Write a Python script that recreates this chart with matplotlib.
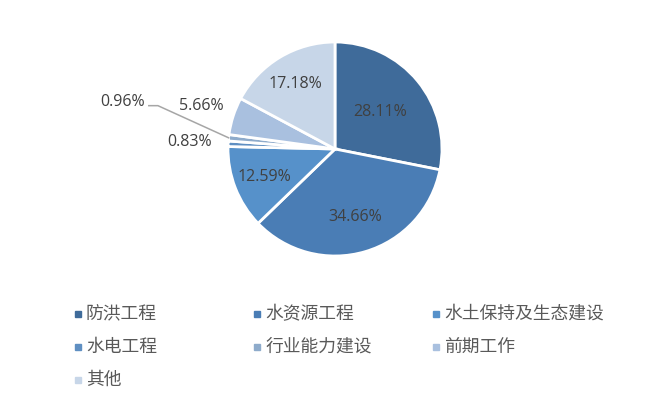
import numpy as np
import matplotlib.pyplot as plt
from matplotlib.patches import Rectangle

plt.rcParams['font.family'] = ['Noto Sans CJK SC', 'DejaVu Sans']

categories = ["防洪工程", "水资源工程", "水土保持及生态建设", "水电工程",
              "行业能力建设", "前期工作", "其他"]
shares = [28.11, 34.66, 12.59, 0.83, 0.96, 5.66, 17.18]
colors = ["#3f6b9a", "#4a7db5", "#5691ca", "#5f8fc2",
          "#8eabcb", "#a9c0df", "#c7d6e8"]
# label distance from centre (in radii) for each slice, 0.96 gets a leader line
label_dist = [0.55, 0.66, 0.71, 1.36, None, 1.31, 0.71]

W, H = 669, 407
fig = plt.figure(figsize=(W / 100, H / 100), dpi=100)
cx, cy, r = 335, 149, 107
ax = fig.add_axes([(cx - r) / W, (H - cy - r) / H, 2 * r / W, 2 * r / H])

wedges, _ = ax.pie(shares, colors=colors, startangle=90, counterclock=False,
                   radius=1, wedgeprops=dict(edgecolor='white', linewidth=2))
ax.set_xlim(-1, 1)
ax.set_ylim(-1, 1)
ax.set_aspect('equal')
ax.axis('off')

txt_color = '#404040'
num_font = ['Open Sans', 'DejaVu Sans']
cum = np.cumsum([0] + shares[:-1])
for i, w in enumerate(wedges):
    mid = np.deg2rad(90 - (cum[i] + shares[i] / 2) * 3.6)
    lab = f"{shares[i]:.2f}%"
    if label_dist[i] is None:
        ex, ey = np.cos(mid), np.sin(mid)
        ax.plot([-1.74, -1.655, ex], [0.405, 0.405, ey], color='#a6a6a6',
                lw=1.1, clip_on=False)
        ax.text(-1.99, 0.44, lab, ha='center', va='center', fontsize=11.5,
                color=txt_color, family=num_font)
        continue
    d = label_dist[i]
    ax.text(d * np.cos(mid), d * np.sin(mid), lab, ha='center', va='center',
            fontsize=11.5, color=txt_color, family=num_font)

# legend laid out on an even grid like the original
col_x = [77.5, 257, 436]
row_y = [314, 347, 380]
for i, name in enumerate(categories):
    row, col = divmod(i, 3)
    x, y = col_x[col], row_y[row]
    fig.patches.append(Rectangle(((x - 3) / W, (H - y - 3) / H), 6 / W, 6 / H,
                                 transform=fig.transFigure, color=colors[i]))
    fig.text((x + 8.5) / W, (H - y) / H, name, ha='left', va='center',
             fontsize=12.8, color='#595959')

fig.savefig("out.png", dpi=100)
